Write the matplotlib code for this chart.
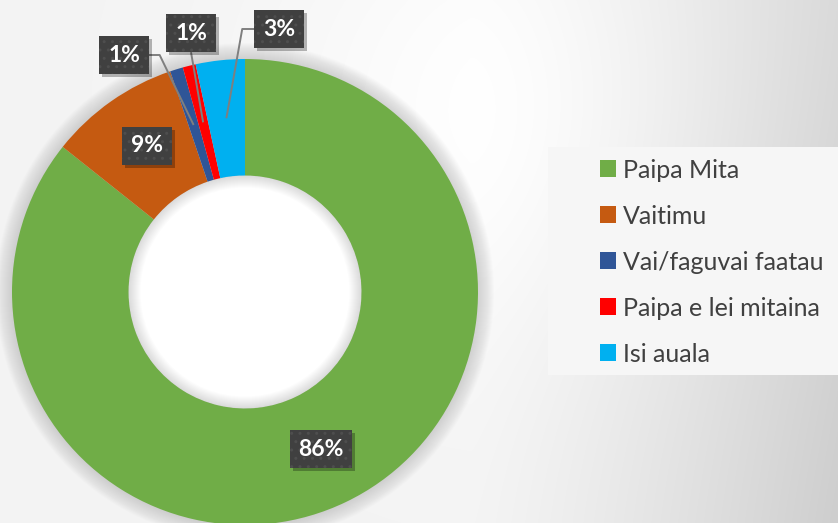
import numpy as np
import matplotlib
matplotlib.use("Agg")
import matplotlib.pyplot as plt
from matplotlib.patches import Circle, Wedge, Rectangle

# ---- data ----
categories = ["Paipa Mita", "Vaitimu", "Vai/faguvai faatau", "Paipa e lei mitaina", "Isi auala"]
shares = [85.7, 9.1, 0.9, 0.9, 3.4]
colors = ["#70AD47", "#C55A11", "#2F5597", "#FF0000", "#00B0F0"]

# ---- layout (pixels, origin top-left) ----
W, H = 838, 523
CX, CY, R = 245, 292, 233
RING = 0.5
label_pos = [(321, 449), (147, 146), (124, 55), (191, 33), (279, 29)]
leader = [None, None, "right", "bottom", "left"]

fig = plt.figure(figsize=(W / 100, H / 100), dpi=100)

# background gradient
bg = fig.add_axes([0, 0, 1, 1])
yy, xx = np.mgrid[0:H, 0:W]
d = np.clip((xx - 470) / 370.0, 0, 1) ** 1.3
v = 0.955 - 0.15 * d * (0.72 + 0.28 * yy / H)
v += 0.045 * np.exp(-((xx - 520) ** 2 + (yy - 110) ** 2) / (2 * 170.0 ** 2))
v = np.clip(v, 0, 1)
bg.imshow(np.dstack([v, v, v]), extent=[0, W, 0, H], origin="upper", aspect="auto")
bg.set_axis_off()

ax = fig.add_axes([0, 0, 1, 1])
ax.patch.set_alpha(0)
cy = H - CY

# soft glow around the ring
for k in range(16):
    ax.add_patch(Circle((CX, cy), R + 16 - k, facecolor="#808080", alpha=0.02, lw=0, zorder=0))

wedges, _ = ax.pie(shares, colors=colors, startangle=90, counterclock=False,
                   radius=R, center=(CX, cy),
                   wedgeprops=dict(width=R * RING, linewidth=0))
for w in wedges:
    w.set_zorder(2)

# white hole with inner shadow
rin = R * (1 - RING)
ax.add_patch(Circle((CX, cy), rin, facecolor="white", lw=0, zorder=1.5))
for k in range(12):
    ax.add_patch(Wedge((CX, cy), rin, 0, 360, width=12 - k, facecolor="#808080",
                       alpha=0.022, lw=0, zorder=1.6))

ax.set_xlim(0, W)
ax.set_ylim(0, H)
ax.set_aspect("auto")
ax.set_axis_off()

# data labels
fs = 16.5
for i, (w, val) in enumerate(zip(wedges, shares)):
    lx, ly = label_pos[i]
    t = ax.text(lx, H - ly, f"{round(val)}%", ha="center", va="center",
                fontsize=fs, fontweight="bold", color="white", family="Lato", zorder=6,
                bbox=dict(boxstyle="square,pad=0.38", facecolor="#404040",
                          edgecolor="#4e4e4e", hatch="..", linewidth=0))
    fig.canvas.draw()
    bb = t.get_bbox_patch().get_window_extent()
    # drop shadow
    ax.add_patch(Rectangle((bb.x0 + 3, bb.y0 - 3), bb.width, bb.height,
                           facecolor="black", alpha=0.28, lw=0, zorder=5.8))
    if leader[i]:
        mid = np.deg2rad((w.theta1 + w.theta2) / 2)
        ex = CX + 0.75 * R * np.cos(mid)
        ey = cy + 0.75 * R * np.sin(mid)
        if leader[i] == "right":
            xs = [bb.x1, bb.x1 + 11, ex]
            ys = [H - ly, H - ly, ey]
        elif leader[i] == "left":
            xs = [bb.x0, bb.x0 - 12, ex]
            ys = [H - ly, H - ly, ey]
        else:
            xs = [lx, ex]
            ys = [bb.y0, ey]
        ax.plot(xs, ys, color="#7f7f7f", lw=1.4, zorder=5, solid_capstyle="butt")

# legend
fig.patches.append(Rectangle((548 / W, 1 - 375 / H), (W - 548) / W, (375 - 147) / H,
                             transform=fig.transFigure, facecolor="#f6f6f6", lw=0, zorder=0.5))
leg = fig.legend(wedges, categories, loc="center left", bbox_to_anchor=(600 / W, 1 - 262 / H),
                 frameon=False, prop=dict(family="Lato", size=18),
                 handlelength=0.65, handleheight=0.65, handletextpad=0.25,
                 labelspacing=0.92, borderpad=0, borderaxespad=0)
for txt in leg.get_texts():
    txt.set_color("#404040")

fig.savefig("out.png", dpi=100)
